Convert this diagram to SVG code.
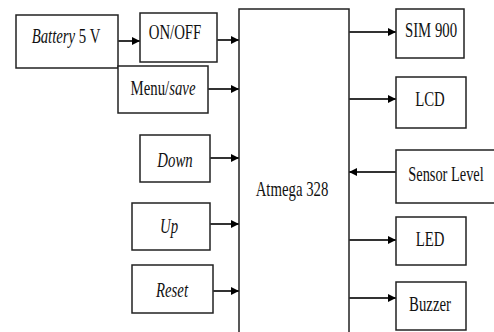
<svg xmlns="http://www.w3.org/2000/svg" width="494" height="332" viewBox="0 0 494 332">
<style>
.box{fill:#fff;stroke:#222;stroke-width:1.5}
.lbl{font-family:"Liberation Serif","Times New Roman",Times,serif;font-size:20px;fill:#111;text-anchor:middle}
.it{font-style:italic}
.con{stroke:#333;stroke-width:2;fill:none}
</style>
<defs>
<marker id="ah" markerWidth="8" markerHeight="8" refX="8" refY="4" orient="auto" markerUnits="userSpaceOnUse">
<path d="M0,0 L8,4 L0,8 Z" fill="#000"/>
</marker>
</defs>
<rect width="494" height="332" fill="#fff"/>
<g id="atmega"><rect class="box" x="239" y="9" width="110" height="340"/><text class="lbl" transform="translate(292,196) scale(0.74,1)">Atmega 328</text></g>
<g id="battery"><rect class="box" x="16" y="15" width="102" height="53"/><text class="lbl" transform="translate(66,43) scale(0.74,1)"><tspan class="it">Battery</tspan> 5 V</text></g>
<g id="onoff"><rect class="box" x="140" y="13" width="77" height="49"/><text class="lbl" transform="translate(175,39) scale(0.74,1)">ON/OFF</text></g>
<g id="menu"><rect class="box" x="118" y="66" width="90" height="47"/><text class="lbl" transform="translate(163,95) scale(0.74,1)">Menu/<tspan class="it">save</tspan></text></g>
<g id="down"><rect class="box" x="140" y="135" width="70" height="47"/><text class="lbl it" transform="translate(175,167) scale(0.74,1)">Down</text></g>
<g id="up"><rect class="box" x="132" y="203" width="78" height="47"/><text class="lbl it" transform="translate(169,233) scale(0.74,1)">Up</text></g>
<g id="reset"><rect class="box" x="132" y="265" width="81" height="48"/><text class="lbl it" transform="translate(172,297) scale(0.74,1)">Reset</text></g>
<g id="sim900"><rect class="box" x="396" y="9" width="68" height="49"/><text class="lbl" transform="translate(431,37) scale(0.74,1)">SIM 900</text></g>
<g id="lcd"><rect class="box" x="396" y="77" width="70" height="51"/><text class="lbl" transform="translate(430,106) scale(0.74,1)">LCD</text></g>
<g id="sensor"><rect class="box" x="396" y="150" width="110" height="53"/><text class="lbl" transform="translate(446,181) scale(0.72,1)">Sensor Level</text></g>
<g id="led"><rect class="box" x="396" y="217" width="70" height="48"/><text class="lbl" transform="translate(430,246) scale(0.74,1)">LED</text></g>
<g id="buzzer"><rect class="box" x="396" y="282" width="70" height="48"/><text class="lbl" transform="translate(430,311) scale(0.74,1)">Buzzer</text></g>
<g id="connectors">
<line class="con" x1="118" y1="41" x2="140" y2="41" marker-end="url(#ah)"/>
<line class="con" x1="217" y1="40" x2="239" y2="40" marker-end="url(#ah)"/>
<line class="con" x1="208" y1="89" x2="239" y2="89" marker-end="url(#ah)"/>
<line class="con" x1="210" y1="158" x2="239" y2="158" marker-end="url(#ah)"/>
<line class="con" x1="210" y1="224" x2="239" y2="224" marker-end="url(#ah)"/>
<line class="con" x1="213" y1="291" x2="239" y2="291" marker-end="url(#ah)"/>
<line class="con" x1="349" y1="32" x2="396" y2="32" marker-end="url(#ah)"/>
<line class="con" x1="349" y1="99" x2="396" y2="99" marker-end="url(#ah)"/>
<line class="con" x1="396" y1="172" x2="349" y2="172" marker-end="url(#ah)"/>
<line class="con" x1="349" y1="240" x2="396" y2="240" marker-end="url(#ah)"/>
<line class="con" x1="349" y1="298" x2="396" y2="298" marker-end="url(#ah)"/>
</g>
</svg>
